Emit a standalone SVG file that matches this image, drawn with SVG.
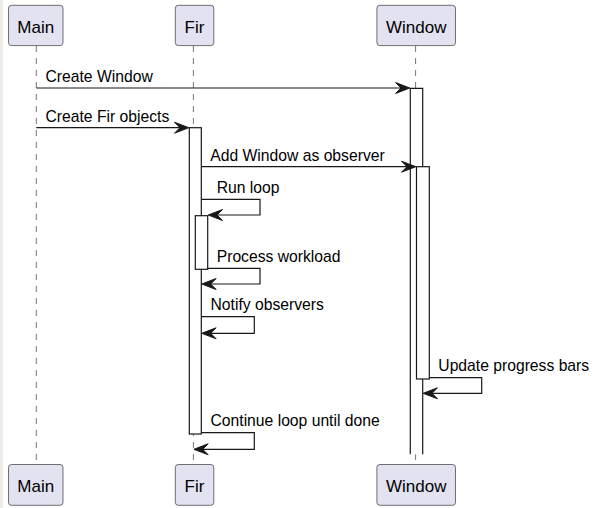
<svg xmlns="http://www.w3.org/2000/svg" width="594" height="508" viewBox="0 0 594 508">
<defs>
<style>
.pbox{fill:#E2E2F0;stroke:#181818;stroke-width:0.6;}
.ptxt{font-family:"Liberation Sans",Arial,sans-serif;font-size:17px;fill:#000;text-anchor:middle;}
.life{stroke:#181818;stroke-width:0.6;stroke-dasharray:6,6;fill:none;}
.act{fill:#FFFFFF;stroke:#181818;stroke-width:1.2;}
.msg{stroke:#181818;stroke-width:1.2;fill:none;}
.mtxt{font-family:"Liberation Sans",Arial,sans-serif;font-size:15.7px;fill:#000;}
.head{fill:#181818;stroke:#181818;stroke-width:1;}
</style>
</defs>
<rect x="0" y="0" width="594" height="508" fill="#FFFFFF"/>
<rect x="0" y="0" width="3" height="508" fill="#EFECE7"/>

<g id="lifelines">
<line class="life" x1="36.3" y1="46" x2="36.3" y2="464"/>
<line class="life" x1="193.4" y1="46" x2="193.4" y2="464"/>
<line class="life" x1="415.6" y1="46" x2="415.6" y2="464"/>
</g>

<g id="Main">
<rect class="pbox" x="8.5" y="5.3" width="54.5" height="40.3" rx="3"/>
<text class="ptxt" x="35.8" y="32.5">Main</text>
<rect class="pbox" x="8.5" y="464.5" width="54.5" height="40.8" rx="3"/>
<text class="ptxt" x="35.8" y="492">Main</text>
</g>
<g id="Fir">
<rect class="pbox" x="175.3" y="5.3" width="38.5" height="40.3" rx="3"/>
<text class="ptxt" x="194.5" y="32.5">Fir</text>
<rect class="pbox" x="175.3" y="464.5" width="38.5" height="40.8" rx="3"/>
<text class="ptxt" x="194.5" y="492">Fir</text>
</g>
<g id="Window">
<rect class="pbox" x="376.9" y="5.3" width="78.6" height="40.3" rx="3"/>
<text class="ptxt" x="416.2" y="32.5">Window</text>
<rect class="pbox" x="376.9" y="464.5" width="78.6" height="40.8" rx="3"/>
<text class="ptxt" x="416.2" y="492">Window</text>
</g>

<g id="activations">
<rect class="act" x="189.3" y="127.7" width="12" height="306.3"/>
<rect class="act" x="195.3" y="215.7" width="12.4" height="53.6"/>
<rect x="410.3" y="88.3" width="12.4" height="366" fill="#FFFFFF"/>
<path class="msg" d="M410.3,454.3 V88.3 H422.7 V454.3"/>
<rect class="act" x="416.5" y="166.7" width="12.8" height="212.3"/>
</g>

<g id="connectors">
<line class="msg" x1="36.3" y1="88" x2="402" y2="88"/>
<polygon class="head" points="409.8,88 395.5,82.5 401,88 395.5,93.5"/>
<text class="mtxt" x="45.5" y="82">Create Window</text>

<line class="msg" x1="36.3" y1="127.7" x2="181" y2="127.7"/>
<polygon class="head" points="188.8,127.7 174.5,122.2 180,127.7 174.5,133.2"/>
<text class="mtxt" x="45.5" y="121.5">Create Fir objects</text>

<line class="msg" x1="201.3" y1="166.7" x2="408" y2="166.7"/>
<polygon class="head" points="415.8,166.7 401.5,161.2 407,166.7 401.5,172.2"/>
<text class="mtxt" x="210.3" y="160.5">Add Window as observer</text>

<path class="msg" d="M201.3,199.3 H260 V215 H214"/>
<polygon class="head" points="208.2,215 222.5,209.5 217,215 222.5,220.5"/>
<text class="mtxt" x="216.7" y="193">Run loop</text>

<path class="msg" d="M207.7,268.3 H260 V284 H208"/>
<polygon class="head" points="201.8,284 216.1,278.5 210.6,284 216.1,289.5"/>
<text class="mtxt" x="216.7" y="261.8">Process workload</text>

<path class="msg" d="M201.3,316.7 H254.3 V333.3 H208"/>
<polygon class="head" points="201.8,333.3 216.1,327.8 210.6,333.3 216.1,338.8"/>
<text class="mtxt" x="210.5" y="310.2">Notify observers</text>

<path class="msg" d="M429.3,377.7 H481.7 V393.3 H429"/>
<polygon class="head" points="423.2,393.3 437.5,387.8 432,393.3 437.5,398.8"/>
<text class="mtxt" x="438.3" y="371.2">Update progress bars</text>

<path class="msg" d="M201.3,432.7 H254.3 V449.3 H200"/>
<polygon class="head" points="193.9,449.3 208.2,443.8 202.7,449.3 208.2,454.8"/>
<text class="mtxt" x="210.5" y="426.2">Continue loop until done</text>
</g>
</svg>
